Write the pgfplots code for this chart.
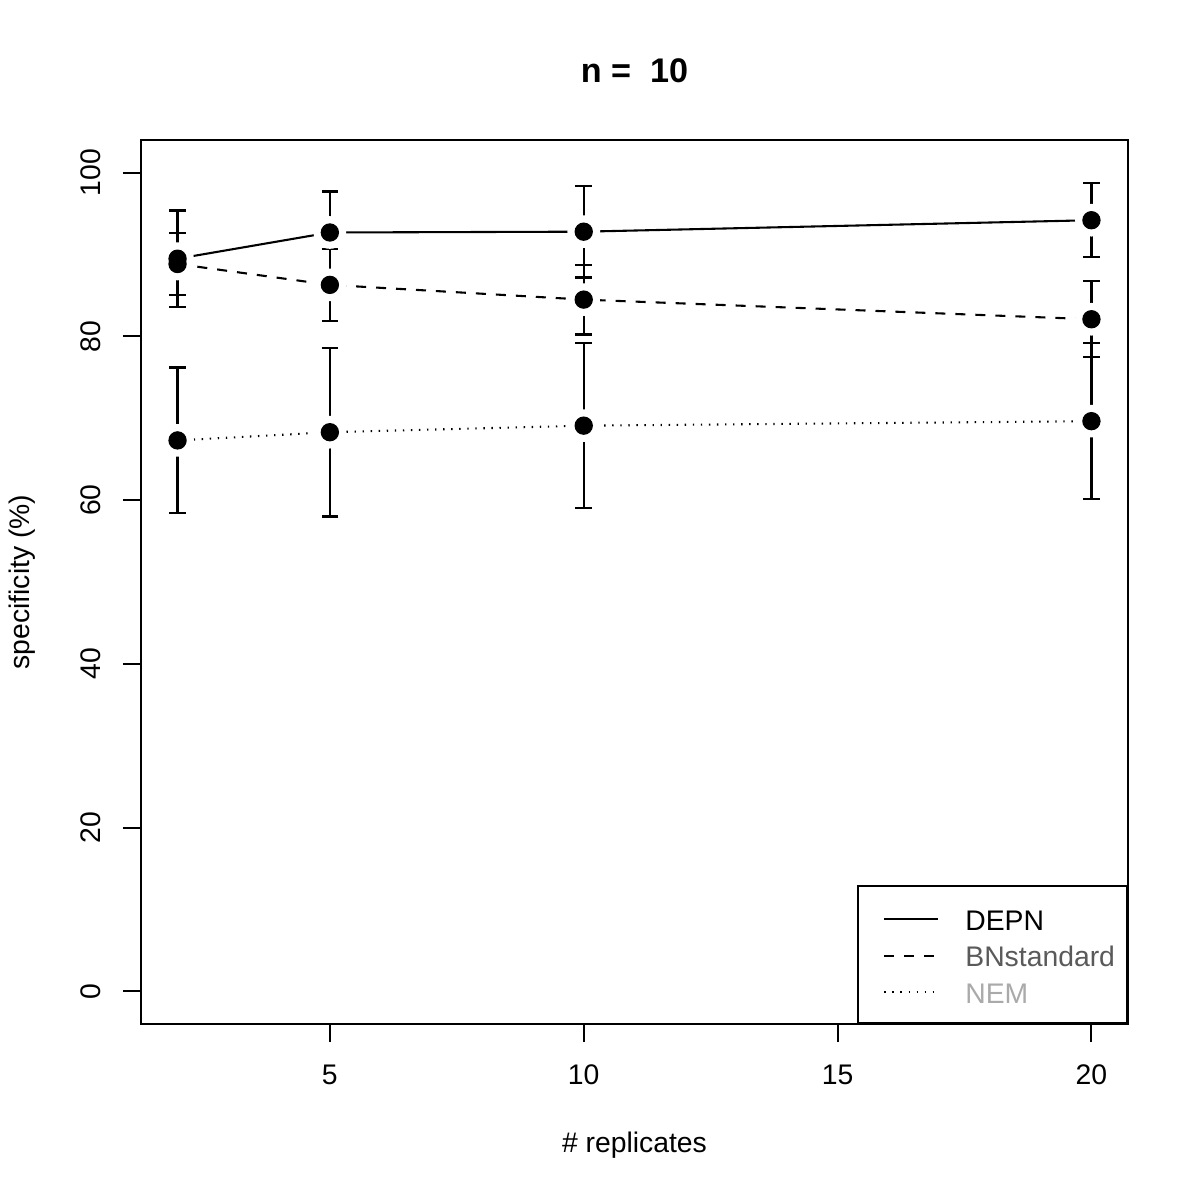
\documentclass[border=0pt]{standalone}
\usepackage{fontspec}
\setmainfont{Liberation Sans}
\usepackage{pgfplots}
\pgfplotsset{compat=1.18}
\definecolor{bngray}{RGB}{90,90,90}
\definecolor{nemgray}{RGB}{170,170,170}
\newcommand{\fs}{\fontsize{10.2}{12}\selectfont}
\begin{document}
\begin{tikzpicture}
\useasboundingbox (-50.76pt,-63.36pt) rectangle (381.24pt,368.64pt);
\begin{axis}[
  at={(0pt,0pt)}, anchor=south west,
  scale only axis,
  width=355.32pt, height=318.24pt,
  xmin=1.28, xmax=20.72, ymin=-4, ymax=104,
  xtick={5,10,15,20}, ytick={0,20,40,60,80,100},
  axis line style={line width=0.75pt},
  tick align=outside, tick style={line width=0.75pt, black},
  major tick length=6.5pt,
  xtick pos=bottom, ytick pos=left,
  /pgf/number format/assume math mode=true,
  tick label style={font=\fs},
  yticklabel style={rotate=90, anchor=south, inner sep=0pt, yshift=7.6pt},
  xticklabel style={anchor=north, inner sep=0pt, yshift=-7.9pt},
  title={\textbf{n =\ \ 10}},
  title style={font=\fontsize{12.3}{14}\selectfont, at={(axis description cs:0.5,1)}, anchor=center, yshift=18.9pt},
  xlabel={\# replicates},
  xlabel style={font=\fs, at={(axis description cs:0.5,0)}, anchor=center, yshift=-43.6pt},
  ylabel={specificity (\%)},
  ylabel style={font=\fs, at={(axis description cs:-0.1206,0.5)}, anchor=center},
  legend style={at={(axis description cs:1,0)}, anchor=south east, draw=black, line width=0.75pt, fill=white,
    font=\fs, inner xsep=4.3pt, inner ysep=6.8pt, row sep=3.6pt, column sep=9.4pt,
    nodes={inner sep=0pt, text height=9.2pt, text depth=0.3pt},
    cells={anchor=west}},
  legend image code/.code={\path (0pt,0pt); \draw[#1, line width=0.75pt] (4.7pt,-0.4pt) -- (24.1pt,-0.4pt);},
  error bars/y dir=both, error bars/y explicit,
  error bars/error mark options={mark size=3pt, line width=0.8pt, black, rotate=90},
  error bars/error bar style={line width=0.8pt, black},
]
% connecting lines with white gaps around points
\addplot[black, line width=0.75pt, mark=*, mark size=5.5pt, mark options={fill=white, draw=white, solid}, forget plot, error bars/y dir=none]
  coordinates {(2,89.5) (5,92.7) (10,92.8) (20,94.2)};
\addplot[black, line width=0.75pt, dash pattern=on 3.6pt off 3.6pt, mark=*, mark size=5.5pt, mark options={fill=white, draw=white, solid}, forget plot, error bars/y dir=none]
  coordinates {(2,88.85) (5,86.3) (10,84.5) (20,82.1)};
\addplot[black, line width=0.75pt, dash pattern=on 0.5pt off 2.4pt, mark=*, mark size=5.5pt, mark options={fill=white, draw=white, solid}, forget plot, error bars/y dir=none]
  coordinates {(2,67.3) (5,68.3) (10,69.1) (20,69.65)};
% error bars and points
\addplot[draw=none, mark=*, mark size=3.1pt, mark options={fill=black, draw=black}, forget plot]
  coordinates {(2,89.5) +- (0,5.9) (5,92.7) +- (0,5.0) (10,92.8) +- (0,5.6) (20,94.2) +- (0,4.5)};
\addplot[draw=none, mark=*, mark size=3.1pt, mark options={fill=black, draw=black}, forget plot]
  coordinates {(2,88.85) +- (0,3.75) (5,86.3) +- (0,4.4) (10,84.5) +- (0,4.25) (20,82.1) +- (0,4.65)};
\addplot[draw=none, mark=*, mark size=3.1pt, mark options={fill=black, draw=black}, forget plot]
  coordinates {(2,67.3) +- (0,8.9) (5,68.3) +- (0,10.3) (10,69.1) +- (0,10.1) (20,69.65) +- (0,9.55)};
% legend entries
\addlegendimage{black}
\addlegendentry{DEPN}
\addlegendimage{black, dash pattern=on 3.6pt off 3.6pt}
\addlegendentry{\textcolor{bngray}{BNstandard}}
\addlegendimage{black, dash pattern=on 0.5pt off 2.4pt}
\addlegendentry{\textcolor{nemgray}{NEM}}
\end{axis}
\end{tikzpicture}
\end{document}
